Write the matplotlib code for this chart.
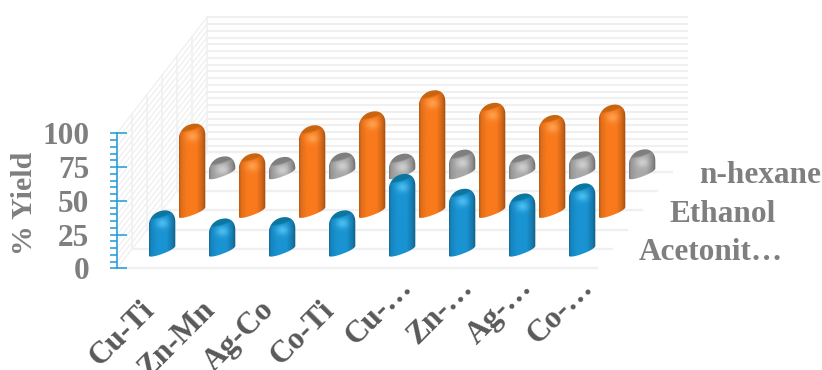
import numpy as np
import matplotlib
matplotlib.use('Agg')
import matplotlib.pyplot as plt
from matplotlib.path import Path
from matplotlib.patches import PathPatch
from matplotlib.colors import to_rgb

categories = ['Cu-Ti', 'Zn-Mn', 'Ag-Co', 'Co-Ti', 'Cu-…', 'Zn-…', 'Ag-…', 'Co-…']
series_names = ['Acetonit…', 'Ethanol', 'n-hexane']
acetonitrile = [22, 16, 17, 22, 49, 38, 34.5, 42]
ethanol = [57.6, 35.6, 56.4, 66.7, 82.3, 73, 64, 71.7]
hexane = [4.7, 4.3, 7.5, 6.7, 9.7, 6.2, 8.4, 9.9]
y_major = [0, 25, 50, 75, 100]

BODY = ['#1993d2', '#f97a1c', '#a8a8a8']
CAP = ['#0b769f', '#c9650f', '#7f7f7f']
GLOW = ['#58c6f5', '#ffa95a', '#d8d8d8']
GRID = '#f0f0f0'
AXIS_BLUE = '#1b9ad6'

# one category = 60 px, 100 % = 135 px, one step back in depth = (30 px, 38.67 px)
PX_X = 1 / 60
PX_Y = 1 / 1.35
DEPTH_X = 30 * PX_X
DEPTH_Y = 38.67 * PX_Y
W = 13.3
BOT_SLOPE, BOT_ARC, TOP_SLOPE, TOP_ARC = 4.8, 3.5, 2.5, 13.8
ROUND = 2.2

plt.rcParams['font.family'] = ['Liberation Serif', 'DejaVu Sans']
plt.rcParams['font.weight'] = 'bold'
plt.rcParams['axes.labelweight'] = 'bold'

fig = plt.figure(figsize=(8.22, 3.7), dpi=100)
ax = fig.add_axes([0, 0, 1, 1])


def floor_xy(cat, depth):
    return cat + depth * DEPTH_X, depth * DEPTH_Y


def draw_walls():
    nser = len(series_names)
    ncat = len(categories)
    for v in np.arange(0, 101, 5):
        x0, y0 = floor_xy(0, nser)
        ax.plot([x0, x0 + ncat], [y0 + v, y0 + v], color=GRID, lw=1.5, zorder=1)
        ax.plot([0, x0], [v, y0 + v], color=GRID, lw=1.0, zorder=1)
    for d in np.arange(0, nser + 0.1, 0.5):
        x0, y0 = floor_xy(0, d)
        ax.plot([x0, x0 + ncat], [y0, y0], color=GRID, lw=1.7, zorder=1)
        ax.plot([x0, x0], [y0, y0 + 100], color=GRID, lw=1.2, zorder=1)


def draw_bar(cat, ser, value):
    cx, cy = floor_xy(cat + 0.5, ser + 0.5)
    h_top = value / PX_Y - 5.2
    # rounder than a plain ellipse: walk across the bar and lift by a superellipse
    t = np.linspace(0, np.pi, 50)
    uu = -np.cos(t)
    arc = (1 - np.abs(uu) ** ROUND) ** (1 / ROUND)
    xs = np.r_[W * uu, W * uu[::-1]]
    ys = np.r_[-1.5 + BOT_SLOPE * uu - BOT_ARC * arc,
               (h_top + TOP_SLOPE * uu + TOP_ARC * arc)[::-1]]
    verts = np.c_[cx + xs * PX_X, cy + ys * PX_Y]

    ylo, yhi = -12, h_top + 18
    gx, gy = np.meshgrid(np.linspace(-W, W, 60),
                         np.linspace(ylo, yhi, max(int((yhi - ylo) * 2), 20)))
    u = gx / W
    shade = np.interp(u, [-1, -0.85, -0.4, 0.3, 0.75, 1],
                      [0.74, 0.9, 1.0, 1.0, 0.82, 0.62])
    img = np.array(to_rgb(BODY[ser]))[None, None, :] * shade[:, :, None]
    glow = 0.8 * np.exp(-((gx / 6) ** 2 + ((gy - h_top - 1) / 5) ** 2))[:, :, None]
    img = img * (1 - glow) + np.array(to_rgb(GLOW[ser])) * glow
    mask = np.clip((gy - (h_top + 6.5 + 4 * u + 2 * u ** 2)) / 2, 0, 1)[:, :, None]
    img = img * (1 - mask) + np.array(to_rgb(CAP[ser])) * mask

    im = ax.imshow(np.clip(img, 0, 1), origin='lower', aspect='auto',
                   interpolation='bilinear', zorder=3 + (2 - ser) + cat * 0.01,
                   extent=[cx - W * PX_X, cx + W * PX_X, cy + ylo * PX_Y, cy + yhi * PX_Y])
    clip = PathPatch(Path(verts), transform=ax.transData, fc='none', ec='none')
    ax.add_patch(clip)
    im.set_clip_path(clip)


draw_walls()
for ser, vals in enumerate([acetonitrile, ethanol, hexane]):
    for cat, val in enumerate(vals):
        draw_bar(cat, ser, val)

ax.set_xlim(-117 * PX_X, (822 - 117) * PX_X)
ax.set_ylim(-101.7 * PX_Y, (370 - 101.7) * PX_Y)

for side in ['top', 'right', 'bottom']:
    ax.spines[side].set_visible(False)
ax.spines['left'].set_position(('data', 0))
ax.spines['left'].set_bounds(0, 100)
ax.spines['left'].set_color(AXIS_BLUE)
ax.spines['left'].set_linewidth(1.1)
ax.spines['left'].set_zorder(2)
ax.set_xticks([])
ax.set_yticks(y_major)
ax.set_yticks(np.arange(0, 101, 5), minor=True)
ax.yaxis.remove_overlapping_locs = False
ax.tick_params(axis='y', which='major', direction='in', length=7.2, width=1.1,
               color=AXIS_BLUE, pad=20, labelsize=22.5, labelcolor='#7f7f7f')
ax.tick_params(axis='y', which='minor', direction='out', length=5, width=1.1,
               color=AXIS_BLUE)
ax.set_ylabel('% Yield', fontsize=21.5, color='#7f7f7f', va='center')
ax.yaxis.set_label_coords(25 / 822, (370 - 203) / 370)

for i, name in enumerate(categories):
    shift = 11 if name.endswith('…') else -7
    drop = 5 if name.endswith('…') else 27
    ax.text(i + 0.5 + shift * PX_X, -drop * PX_Y, name, rotation=45, ha='right', va='top',
            rotation_mode='anchor', fontsize=22.5, color='#595959')

for ser, name in enumerate(series_names):
    x0, y0 = floor_xy(len(categories), ser + 0.5)
    ax.text(x0 + 27 * PX_X, y0 - 4 * PX_Y, name, ha='left', va='center', fontsize=22.5, color='#7f7f7f')

fig.savefig('out.png', dpi=100, facecolor='white')
